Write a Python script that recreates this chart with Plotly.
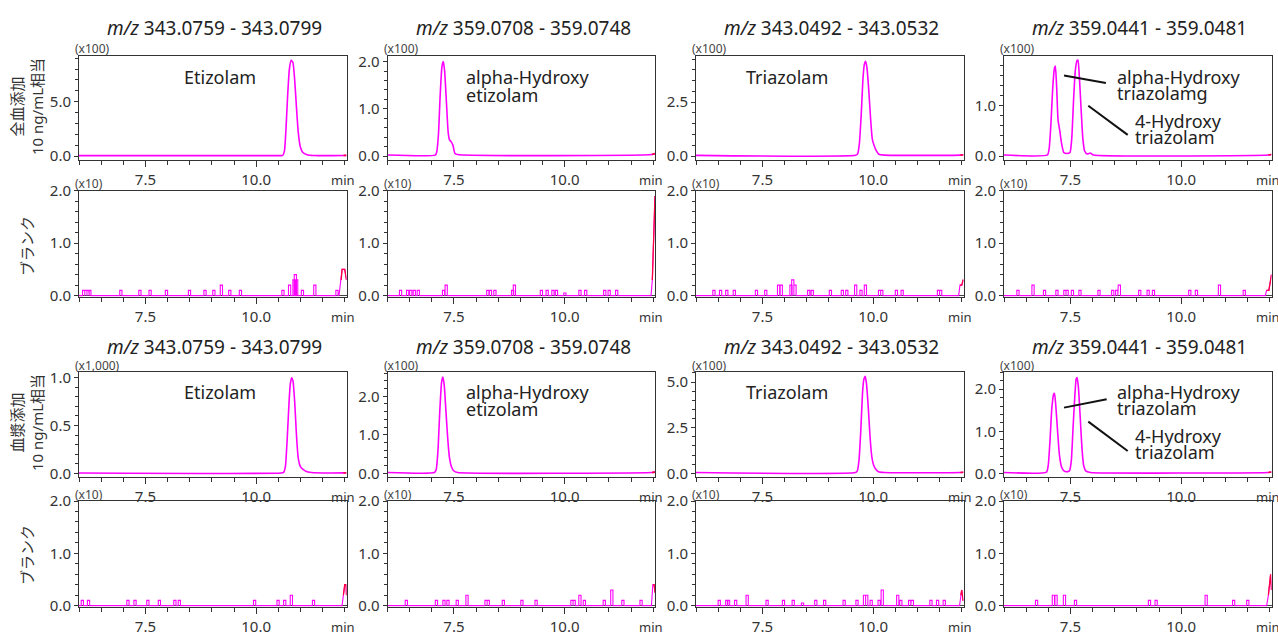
import plotly.graph_objects as go

# ---------------- data ----------------
mz_ranges = ["343.0759 - 343.0799", "359.0708 - 359.0748",
             "343.0492 - 343.0532", "359.0441 - 359.0481"]
row_labels = ["全血添加<br>10 ng/mL相当", "ブランク", "血漿添加<br>10 ng/mL相当", "ブランク"]
scale_labels = [["(x100)"] * 4, ["(x10)"] * 4,
                ["(x1,000)", "(x100)", "(x100)", "(x100)"], ["(x10)"] * 4]
x_tick_vals = [7.5, 10.0]
x_tick_text = ["7.5", "10.0"]

# whole blood spiked (row 1)
wb_etizolam_t = [6.0, 10.56, 10.6, 10.64, 10.68, 10.71, 10.75, 10.79, 10.83, 10.87, 10.91, 10.95, 11.0, 11.05, 11.15, 11.3, 11.97, 12.04]
wb_etizolam_y = [0.03, 0.03, 0.05, 0.5, 3.0, 5.5, 8.0, 8.8, 8.6, 7.0, 4.5, 2.2, 0.8, 0.35, 0.12, 0.05, 0.05, 0.06]
wb_ohetizolam_t = [6.0, 7.08, 7.11, 7.15, 7.19, 7.23, 7.26, 7.29, 7.33, 7.37, 7.4, 7.44, 7.48, 7.52, 7.58, 11.97, 12.04]
wb_ohetizolam_y = [0.02, 0.02, 0.08, 0.45, 1.3, 1.9, 2.0, 1.8, 1.15, 0.5, 0.34, 0.3, 0.22, 0.06, 0.03, 0.03, 0.05]
wb_triazolam_t = [6.0, 9.6, 9.65, 9.69, 9.73, 9.77, 9.8, 9.83, 9.86, 9.9, 9.94, 9.98, 10.02, 10.07, 10.13, 10.25, 11.97, 12.04]
wb_triazolam_y = [0.03, 0.03, 0.1, 0.6, 1.9, 3.6, 4.25, 4.4, 4.1, 3.1, 1.8, 0.8, 0.5, 0.25, 0.08, 0.04, 0.04, 0.06]
wb_ohtriazolam_t = [6.0, 6.98, 7.02, 7.06, 7.1, 7.14, 7.16, 7.19, 7.22, 7.26, 7.3, 7.35, 7.42,
                    7.49, 7.53, 7.57, 7.61, 7.65, 7.67, 7.7, 7.74, 7.78, 7.82, 7.88, 7.95, 8.02, 11.97, 12.04]
wb_ohtriazolam_y = [0.02, 0.02, 0.15, 0.65, 1.35, 1.75, 1.79, 1.35, 0.72, 0.5, 0.25, 0.07, 0.05,
                    0.07, 0.35, 1.1, 1.7, 1.9, 1.91, 1.6, 0.95, 0.35, 0.1, 0.04, 0.06, 0.02, 0.02, 0.03]

# plasma spiked (row 3)
pl_etizolam_t = [6.0, 10.56, 10.62, 10.66, 10.7, 10.74, 10.77, 10.8, 10.83, 10.87, 10.91, 10.95, 11.0, 11.06, 11.15, 11.3, 11.97, 12.04]
pl_etizolam_y = [0.003, 0.003, 0.01, 0.07, 0.35, 0.72, 0.93, 1.0, 0.97, 0.75, 0.4, 0.16, 0.07, 0.04, 0.015, 0.005, 0.004, 0.006]
pl_ohetizolam_t = [6.0, 7.06, 7.1, 7.14, 7.18, 7.22, 7.25, 7.28, 7.32, 7.36, 7.4, 7.45, 7.5, 7.58, 11.97, 12.04]
pl_ohetizolam_y = [0.02, 0.02, 0.1, 0.6, 1.6, 2.35, 2.5, 2.3, 1.6, 0.9, 0.4, 0.15, 0.06, 0.02, 0.02, 0.03]
pl_triazolam_t = [6.0, 9.6, 9.64, 9.68, 9.72, 9.76, 9.79, 9.82, 9.85, 9.89, 9.93, 9.97, 10.01, 10.06, 10.12, 10.25, 11.97, 12.04]
pl_triazolam_y = [0.04, 0.04, 0.12, 0.7, 2.3, 4.4, 5.15, 5.31, 4.9, 3.6, 2.0, 0.9, 0.45, 0.22, 0.08, 0.04, 0.04, 0.06]
pl_ohtriazolam_t = [6.0, 6.96, 7.0, 7.04, 7.08, 7.12, 7.14, 7.17, 7.21, 7.25, 7.3, 7.36, 7.44,
                    7.48, 7.52, 7.56, 7.6, 7.63, 7.65, 7.68, 7.72, 7.76, 7.8, 7.85, 7.95, 11.97, 12.04]
pl_ohtriazolam_y = [0.02, 0.03, 0.2, 0.8, 1.55, 1.88, 1.9, 1.6, 1.0, 0.45, 0.15, 0.05, 0.04,
                    0.06, 0.3, 1.1, 1.85, 2.25, 2.28, 2.05, 1.35, 0.6, 0.18, 0.05, 0.02, 0.02, 0.03]

# blank noise spikes: (retention time, height)
blank_wb_spikes = [
    [(6.08, 0.1), (6.13, 0.1), (6.18, 0.1), (6.22, 0.1), (6.92, 0.1), (7.35, 0.1), (7.58, 0.1), (7.95, 0.1),
     (8.47, 0.1), (8.82, 0.1), (9.02, 0.1), (9.19, 0.2), (9.38, 0.1), (9.62, 0.1), (10.58, 0.1), (10.73, 0.2),
     (10.83, 0.3), (10.86, 0.4), (10.89, 0.3), (11.02, 0.1), (11.3, 0.2), (11.8, 0.1)],
    [(6.27, 0.1), (6.43, 0.1), (6.5, 0.1), (6.58, 0.1), (6.67, 0.1), (7.24, 0.1), (7.3, 0.2), (8.24, 0.1),
     (8.3, 0.1), (8.4, 0.1), (8.8, 0.1), (8.84, 0.2), (9.45, 0.1), (9.58, 0.1), (9.71, 0.1), (9.79, 0.1),
     (9.98, 0.05), (10.32, 0.1), (10.45, 0.1), (10.88, 0.1), (10.98, 0.1), (11.15, 0.1)],
    [(6.38, 0.1), (6.53, 0.1), (6.67, 0.1), (6.84, 0.1), (7.34, 0.1), (7.55, 0.1), (7.84, 0.2), (7.9, 0.2),
     (8.12, 0.2), (8.16, 0.3), (8.21, 0.2), (8.52, 0.1), (8.6, 0.1), (9.01, 0.1), (9.28, 0.1), (9.38, 0.1),
     (9.58, 0.2), (9.7, 0.1), (9.8, 0.2), (10.12, 0.1), (10.17, 0.1), (10.5, 0.1), (10.63, 0.1),
     (11.45, 0.1), (11.5, 0.1)],
    [(6.29, 0.1), (6.63, 0.2), (6.89, 0.1), (7.17, 0.1), (7.35, 0.1), (7.4, 0.1), (7.52, 0.1), (7.69, 0.1),
     (8.12, 0.1), (8.43, 0.1), (8.52, 0.1), (8.58, 0.2), (9.04, 0.1), (9.23, 0.1), (9.35, 0.1),
     (10.17, 0.1), (10.32, 0.1), (10.84, 0.2), (11.4, 0.1)],
]
blank_wb_end = [
    [(11.87, 0.0), (11.92, 0.3), (11.94, 0.5), (12.0, 0.5), (12.04, 0.3)],
    [(11.95, 0.0), (11.98, 0.3), (12.0, 1.0), (12.02, 1.6), (12.04, 1.9)],
    [(11.93, 0.0), (11.96, 0.2), (12.0, 0.2), (12.03, 0.3), (12.04, 0.3)],
    [(11.9, 0.0), (11.93, 0.1), (11.98, 0.1), (12.01, 0.25), (12.04, 0.4)],
]
blank_pl_spikes = [
    [(6.05, 0.1), (6.19, 0.1), (7.08, 0.1), (7.24, 0.1), (7.53, 0.1), (7.79, 0.1), (8.14, 0.1), (8.24, 0.1),
     (9.94, 0.1), (10.47, 0.1), (10.62, 0.1), (10.77, 0.2), (11.27, 0.1)],
    [(6.4, 0.1), (7.08, 0.1), (7.25, 0.1), (7.34, 0.1), (7.55, 0.1), (7.77, 0.2), (8.2, 0.1), (8.25, 0.1),
     (8.59, 0.1), (9.01, 0.1), (9.33, 0.1), (10.14, 0.1), (10.19, 0.1), (10.32, 0.2), (10.42, 0.1),
     (10.87, 0.1), (11.04, 0.3), (11.29, 0.1), (11.7, 0.1)],
    [(6.5, 0.1), (6.67, 0.1), (6.71, 0.1), (6.87, 0.1), (7.13, 0.2), (7.58, 0.1), (7.95, 0.1), (8.17, 0.1),
     (8.38, 0.05), (8.68, 0.1), (8.88, 0.1), (9.32, 0.1), (9.61, 0.1), (9.78, 0.2), (9.83, 0.2), (9.93, 0.1),
     (10.11, 0.1), (10.18, 0.3), (10.53, 0.2), (10.6, 0.1), (10.8, 0.1), (10.86, 0.1), (11.28, 0.1),
     (11.43, 0.1), (11.58, 0.1)],
    [(6.71, 0.1), (7.09, 0.2), (7.15, 0.2), (7.34, 0.2), (7.59, 0.1), (9.26, 0.1), (9.41, 0.1),
     (10.54, 0.2), (11.16, 0.1), (11.48, 0.1)],
]
blank_pl_end = [
    [(11.94, 0.0), (11.97, 0.2), (12.0, 0.4), (12.03, 0.4), (12.04, 0.2)],
    [(11.96, 0.0), (11.99, 0.4), (12.02, 0.4), (12.04, 0.25)],
    [(11.95, 0.0), (11.98, 0.2), (12.0, 0.3), (12.03, 0.1), (12.04, 0.1)],
    [(11.93, 0.0), (11.97, 0.2), (12.0, 0.5), (12.02, 0.6), (12.04, 0.3)],
]

peak_series = {
    (0, 0): (wb_etizolam_t, wb_etizolam_y), (0, 1): (wb_ohetizolam_t, wb_ohetizolam_y),
    (0, 2): (wb_triazolam_t, wb_triazolam_y), (0, 3): (wb_ohtriazolam_t, wb_ohtriazolam_y),
    (2, 0): (pl_etizolam_t, pl_etizolam_y), (2, 1): (pl_ohetizolam_t, pl_ohetizolam_y),
    (2, 2): (pl_triazolam_t, pl_triazolam_y), (2, 3): (pl_ohtriazolam_t, pl_ohtriazolam_y),
}
blank_series = {(1, c): (blank_wb_spikes[c], blank_wb_end[c]) for c in range(4)}
blank_series.update({(3, c): (blank_pl_spikes[c], blank_pl_end[c]) for c in range(4)})

# y axis: (top of range, major step, minor step)
y_axes = {
    (0, 0): (9.2, 5.0, 1.0), (0, 1): (2.12, 1.0, 0.2), (0, 2): (4.65, 2.5, 0.5), (0, 3): (1.99, 1.0, 0.2),
    (2, 0): (1.06, 0.5, 0.1), (2, 1): (2.63, 1.0, 0.2), (2, 2): (5.55, 2.5, 0.5), (2, 3): (2.41, 1.0, 0.2),
}

# ---------------- layout geometry (pixels) ----------------
W, H = 1278, 637
FONT = "Noto Sans, Noto Sans CJK JP, sans-serif"
MAGENTA = "#FF00FF"
RED = "#FF0040"
AX = "#333333"
col_left = [79, 387.5, 696, 1004]
col_w = 267.5
row_box = [(56, 160), (190.7, 296.7), (372, 477), (501, 606.7)]
row_base = {0: 156, 2: 473.3}
SPIKE_W = 0.05


def fx(p):
    return p / W


def fy(p):
    return 1 - p / H


fig = go.Figure()
layout = {}
annotations = []
shapes = []

for r in range(4):
    top, bot = row_box[r]
    for c in range(4):
        k = r * 4 + c + 1
        xn = "x" if k == 1 else f"x{k}"
        yn = "y" if k == 1 else f"y{k}"
        L = col_left[c]
        if (r, c) in peak_series:
            t, y = peak_series[(r, c)]
            fig.add_trace(go.Scatter(x=t, y=y, mode="lines", xaxis=xn, yaxis=yn,
                                     line=dict(color=MAGENTA, width=1.6, shape="spline", smoothing=0.5),
                                     hoverinfo="skip"))
            te = [a for a in t if a >= 11.97]
            ye = [b for a, b in zip(t, y) if a >= 11.97]
            fig.add_trace(go.Scatter(x=te, y=ye, mode="lines", xaxis=xn, yaxis=yn,
                                     line=dict(color=RED, width=1.6), hoverinfo="skip"))
            ymax, major, minor = y_axes[(r, c)]
            base = row_base[r]
            ymin = -ymax * (bot - base) / (base - top)
            zl = False
        else:
            spikes, end = blank_series[(r, c)]
            xs, ys = [6.0], [0.0]
            for ts, h in spikes:
                xs += [ts, ts, ts + SPIKE_W, ts + SPIKE_W]
                ys += [0.0, h, h, 0.0]
            xs += [p[0] for p in end]
            ys += [p[1] for p in end]
            fig.add_trace(go.Scatter(x=xs, y=ys, mode="lines", xaxis=xn, yaxis=yn,
                                     line=dict(color=MAGENTA, width=1.1), hoverinfo="skip"))
            fig.add_trace(go.Scatter(x=[p[0] for p in end[1:]], y=[p[1] for p in end[1:]], mode="lines",
                                     xaxis=xn, yaxis=yn, line=dict(color=RED, width=1.3), hoverinfo="skip"))
            ymax, major, minor = 2.0, 1.0, 0.2
            ymin = -0.02
            zl = True

        layout["xaxis" if k == 1 else f"xaxis{k}"] = dict(
            domain=[fx(L), fx(L + col_w)], anchor=yn, range=[6.0, 12.04], automargin=False,
            tickmode="array", tickvals=x_tick_vals, ticktext=x_tick_text,
            ticks="outside", ticklen=6, tickwidth=1, tickcolor=AX,
            showline=True, linecolor=AX, linewidth=1, mirror=True,
            showgrid=False, zeroline=False,
            tickfont=dict(family=FONT, size=15, color="#333"),
            minor=dict(ticks="outside", ticklen=4, tickwidth=1, tickcolor=AX,
                       tickmode="linear", tick0=6.0, dtick=0.5, showgrid=False),
        )
        layout["yaxis" if k == 1 else f"yaxis{k}"] = dict(
            domain=[fy(bot), fy(top)], anchor=xn, range=[ymin, ymax], automargin=False,
            tickmode="linear", tick0=0, dtick=major, tickformat=".1f",
            ticks="outside", ticklen=4, tickwidth=1, tickcolor=AX,
            showline=True, linecolor=AX, linewidth=1, mirror=True,
            showgrid=False, zeroline=zl, zerolinecolor="#444", zerolinewidth=1.4,
            layer="above traces",
            tickfont=dict(family=FONT, size=15, color="#333"),
            minor=dict(ticks="outside", ticklen=3, tickwidth=1, tickcolor=AX,
                       tickmode="linear", tick0=0, dtick=minor, showgrid=False),
        )
        # scale label
        annotations.append(dict(text=scale_labels[r][c], xref="paper", yref="paper",
                                x=fx(L - 6), y=fy(top - 7), xanchor="left", yanchor="middle",
                                showarrow=False, font=dict(family=FONT, size=12, color="#444")))
        # "min"
        annotations.append(dict(text="min", xref="paper", yref="paper",
                                x=fx(L + col_w - 4), y=fy(bot + 20), xanchor="center", yanchor="middle",
                                showarrow=False, font=dict(family=FONT, size=13, color="#333")))

# titles
for r, ty in ((0, 28), (2, 347)):
    for c in range(4):
        annotations.append(dict(text="<i>m/z</i> " + mz_ranges[c], xref="paper", yref="paper",
                                x=fx(col_left[c] + col_w / 2 + 2), y=fy(ty), xanchor="center",
                                yanchor="middle", showarrow=False,
                                font=dict(family=FONT, size=19, color="#222")))

# row labels
for r, cy in zip(range(4), (107, 246, 423, 555)):
    annotations.append(dict(text=row_labels[r], xref="paper", yref="paper", x=fx(27), y=fy(cy),
                            xanchor="center", yanchor="middle", textangle=-90, showarrow=False,
                            font=dict(family=FONT, size=15, color="#333")))

# compound labels: (text, x px, y px, xanchor)
compound_labels = [
    ("Etizolam", 220, 77, "center"), ("Etizolam", 220, 391.5, "center"),
    ("alpha-Hydroxy", 464, 77, "left"), ("etizolam", 464, 95, "left"),
    ("alpha-Hydroxy", 464, 392, "left"), ("etizolam", 464, 409, "left"),
    ("Triazolam", 744, 77, "left"), ("Triazolam", 744, 392, "left"),
    ("alpha-Hydroxy", 1115, 77, "left"), ("triazolamg", 1115, 93, "left"),
    ("4-Hydroxy", 1133, 121, "left"), ("triazolam", 1133, 137, "left"),
    ("alpha-Hydroxy", 1115, 391.5, "left"), ("triazolam", 1115, 407.5, "left"),
    ("4-Hydroxy", 1133, 436, "left"), ("triazolam", 1133, 452, "left"),
]
for txt, xp, yp, xa in compound_labels:
    annotations.append(dict(text=txt, xref="paper", yref="paper", x=fx(xp), y=fy(yp),
                            xanchor=xa, yanchor="middle", showarrow=False,
                            font=dict(family=FONT, size=18, color="#222")))

# pointer lines in data coordinates of the 4th-column panels
pointer_lines = [
    ("x4", "y4", 7.355, 1.60, 8.30, 1.454), ("x4", "y4", 7.903, 1.0, 8.793, 0.42),
    ("x12", "y12", 7.355, 1.562, 8.319, 1.762), ("x12", "y12", 7.903, 1.229, 8.793, 0.531),
]
for xr, yr, x0, y0, x1, y1 in pointer_lines:
    shapes.append(dict(type="line", xref=xr, yref=yr, x0=x0, y0=y0, x1=x1, y1=y1,
                       line=dict(color="#111", width=2)))

fig.update_layout(**layout)
fig.update_layout(width=W, height=H, autosize=False,
                  margin=dict(l=0, r=0, t=0, b=0, pad=0, autoexpand=False),
                  paper_bgcolor="white", plot_bgcolor="white", showlegend=False,
                  annotations=annotations, shapes=shapes,
                  font=dict(family=FONT, color="#333"))
fig.write_html("out.html", config={"displayModeBar": False},
               post_script="document.body.style.margin='0';document.body.style.padding='0';"
                           "document.body.style.overflow='hidden';")
